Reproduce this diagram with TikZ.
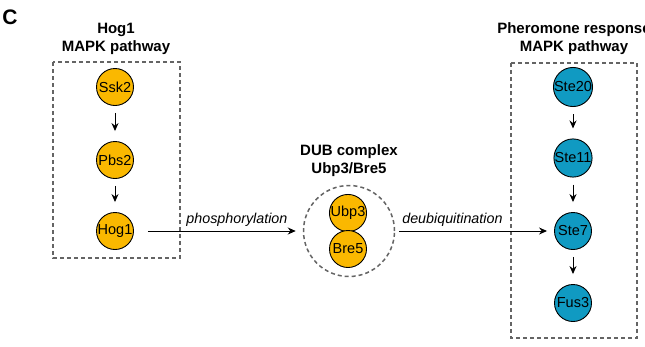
\documentclass[tikz,border=0pt]{standalone}
\usepackage{fontspec}
\setmainfont{Liberation Sans}
\usetikzlibrary{arrows.meta}

\definecolor{hogorange}{RGB}{250,184,0}
\definecolor{pherblue}{RGB}{16,154,194}
\definecolor{boxgray}{RGB}{100,100,100}

\tikzset{
  hogprot/.style={circle, draw=black, line width=0.9pt, fill=hogorange, minimum size=37pt, inner sep=0pt, font=\fontsize{14.5}{16}\selectfont},
  pherprot/.style={hogprot, fill=pherblue},
  pathbox/.style={draw=boxgray, line width=1.5pt, dash pattern=on 4pt off 3pt},
  headline/.style={align=center, font=\fontsize{15}{18}\selectfont\bfseries},
  flowlabel/.style={font=\fontsize{14.3}{16}\selectfont\itshape}
}

\begin{document}
\begin{tikzpicture}[x=1pt, y=-1pt, line width=1pt, >={Stealth[length=8pt, width=7pt]}]
    \useasboundingbox (0,0) rectangle (645,346);
    % panel letter
    \node[font=\fontsize{21}{23}\selectfont\bfseries] (panel) at (10,17) {C};
    % Hog1 pathway
    \node[headline] (hoghead) at (116,39) {Hog1\\MAPK pathway};
    \draw[pathbox] (53,62) rectangle (180,258);
    \node[hogprot] (ssk2) at (115,87) {Ssk2};
    \node[hogprot] (pbs2) at (115,160) {Pbs2};
    \node[hogprot] (hog1) at (115,231) {Hog1};
    \draw[->, shorten <=7pt, shorten >=10pt] (ssk2) -- (pbs2);
    \draw[->, shorten <=7pt, shorten >=10pt] (pbs2) -- (hog1);
    % DUB complex
    \node[headline] (dubhead) at (349,161) {DUB complex\\Ubp3/Bre5};
    \node[circle, pathbox, minimum size=91pt] (dub) at (349,231) {};
    \node[hogprot] (ubp3) at (348,213) {Ubp3};
    \node[hogprot] (bre5) at (348,249) {Bre5};
    % Pheromone response pathway
    \node[headline] (pherhead) at (574,39) {Pheromone response\\MAPK pathway};
    \draw[pathbox] (511,63) rectangle (637,338);
    \node[pherprot] (ste20) at (573,87) {Ste20};
    \node[pherprot] (ste11) at (573,158) {Ste11};
    \node[pherprot] (ste7) at (573,231) {Ste7};
    \node[pherprot] (fus3) at (573,303) {Fus3};
    \draw[->, shorten <=7pt, shorten >=10pt] (ste20) -- (ste11);
    \draw[->, shorten <=7pt, shorten >=10pt] (ste11) -- (ste7);
    \draw[->, shorten <=7pt, shorten >=10pt] (ste7) -- (fus3);
    % Flows
    \draw[->, shorten <=14pt, shorten >=7pt] (hog1) -- (dub)
        node[flowlabel, pos=0.61, above=1pt] (phos) {phosphorylation};
    \draw[->, shorten <=4pt, shorten >=7pt] (dub) -- (ste7)
        node[flowlabel, pos=0.36, above=1pt] (deub) {deubiquitination};
\end{tikzpicture}
\end{document}
